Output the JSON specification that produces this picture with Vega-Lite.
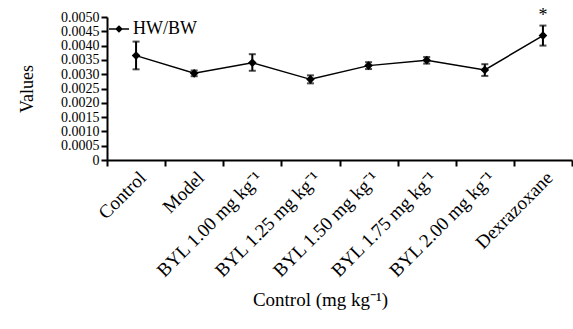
{
  "$schema": "https://vega.github.io/schema/vega-lite/v6.json",
  "autosize": {"type": "none"},
  "padding": {"left": 107, "top": 17, "right": 1, "bottom": 169},
  "width": 465,
  "height": 143,
  "background": "white",
  "config": {
    "font": "Liberation Serif",
    "view": {"stroke": null},
    "axis": {"grid": false, "domainColor": "black", "tickColor": "black", "labelColor": "black", "titleColor": "black", "domainWidth": 2, "tickWidth": 2},
    "axisY": {"titleFontSize": 18, "titleFontWeight": "normal", "titlePadding": 24, "labelFontSize": 14, "labelOverlap": false, "tickSize": 6, "labelPadding": 2, "labelExpr": "datum.value == 0 ? '0' : format(datum.value, '.4f')"}
  },
  "data": {
    "values": [
      {"group": "Control", "series": "HW/BW", "mean": 0.00365, "lo": 0.00317, "hi": 0.00414, "sig": ""},
      {"group": "Model", "series": "HW/BW", "mean": 0.00303, "lo": 0.00293, "hi": 0.00313, "sig": ""},
      {"group": "BYL 1.00 mg kg⁻¹", "series": "HW/BW", "mean": 0.0034, "lo": 0.00312, "hi": 0.0037, "sig": ""},
      {"group": "BYL 1.25 mg kg⁻¹", "series": "HW/BW", "mean": 0.00282, "lo": 0.00268, "hi": 0.00296, "sig": ""},
      {"group": "BYL 1.50 mg kg⁻¹", "series": "HW/BW", "mean": 0.0033, "lo": 0.00318, "hi": 0.00342, "sig": ""},
      {"group": "BYL 1.75 mg kg⁻¹", "series": "HW/BW", "mean": 0.00349, "lo": 0.00337, "hi": 0.0036, "sig": ""},
      {"group": "BYL 2.00 mg kg⁻¹", "series": "HW/BW", "mean": 0.00315, "lo": 0.00294, "hi": 0.00335, "sig": ""},
      {"group": "Dexrazoxane", "series": "HW/BW", "mean": 0.00435, "lo": 0.004, "hi": 0.0047, "sig": "*"}
    ]
  },
  "encoding": {
    "x": {
      "field": "group", "type": "nominal", "sort": null,
      "scale": {"type": "band", "paddingInner": 0, "paddingOuter": 0},
      "axis": {"title": "Control (mg kg⁻¹)", "titleFontSize": 19, "titleFontWeight": "normal", "titleX": 213, "labelFontSize": 19, "labelAngle": -45, "labelDx": -5, "tickBand": "extent", "tickSize": 6, "labelPadding": 2, "titlePadding": 10}
    }
  },
  "layer": [
    {
      "mark": {"type": "rule", "color": "black", "strokeWidth": 2},
      "encoding": {
        "y": {"field": "lo", "type": "quantitative", "title": "Values", "scale": {"domain": [0, 0.005], "nice": false}, "axis": {"tickCount": 10}},
        "y2": {"field": "hi"}
      }
    },
    {
      "mark": {"type": "tick", "color": "black", "thickness": 2, "size": 7},
      "encoding": {"y": {"field": "lo", "type": "quantitative", "title": "Values", "axis": {"tickCount": 10}}}
    },
    {
      "mark": {"type": "tick", "color": "black", "thickness": 2, "size": 7},
      "encoding": {"y": {"field": "hi", "type": "quantitative", "title": "Values", "axis": {"tickCount": 10}}}
    },
    {
      "mark": {"type": "line", "strokeWidth": 1.5, "color": "black"},
      "encoding": {
        "y": {"field": "mean", "type": "quantitative", "title": "Values", "axis": {"tickCount": 10}}
      }
    },
    {
      "mark": {"type": "point", "shape": "diamond", "filled": true, "size": 75, "opacity": 1},
      "encoding": {
        "y": {"field": "mean", "type": "quantitative", "title": "Values", "axis": {"tickCount": 10}},
        "color": {
          "field": "series", "type": "nominal",
          "scale": {"range": ["black"]},
          "legend": {"title": null, "orient": "top-left", "offset": 1, "labelFontSize": 18, "symbolType": "M-1,0L1,0M0,-0.28L0.28,0L0,0.28L-0.28,0Z", "symbolSize": 400, "symbolStrokeWidth": 1.5, "symbolStrokeColor": "black", "symbolFillColor": "black", "labelOffset": 3, "padding": 0}
        }
      }
    },
    {
      "mark": {"type": "text", "fontSize": 18, "dy": -10, "color": "black"},
      "encoding": {
        "y": {"field": "hi", "type": "quantitative", "title": "Values", "axis": {"tickCount": 10}},
        "text": {"field": "sig"}
      }
    }
  ]
}
